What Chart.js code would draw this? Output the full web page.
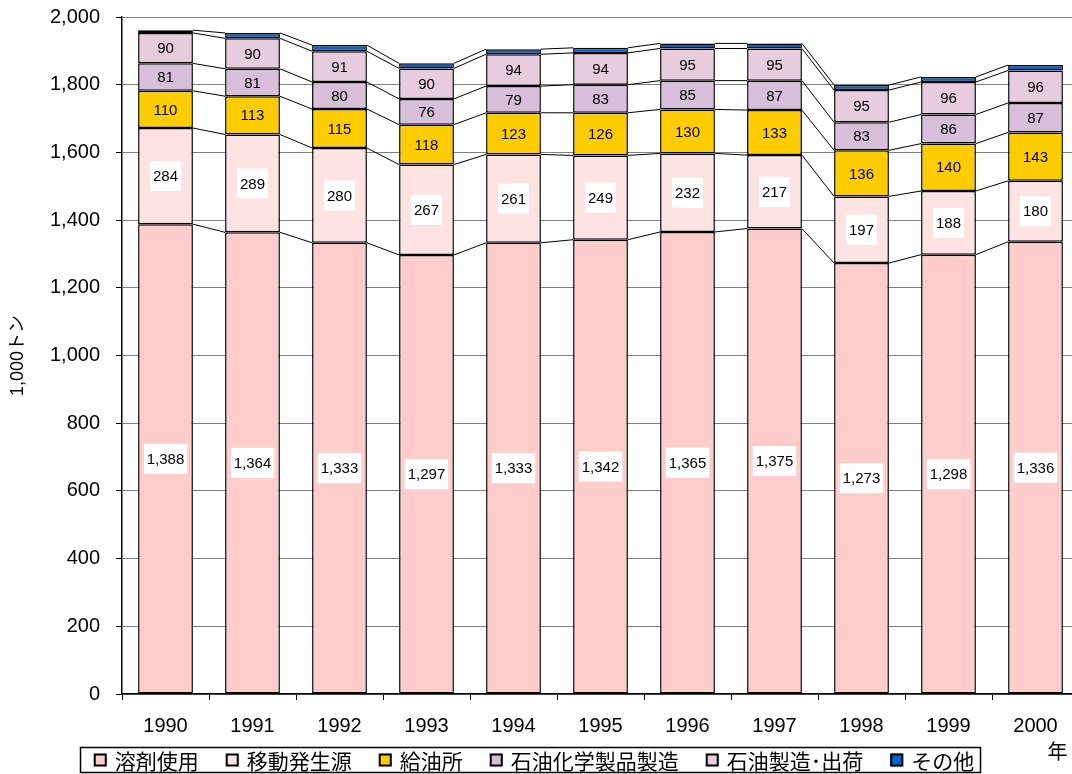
<!DOCTYPE html>
<html>
<head>
<meta charset="utf-8">
<script src="https://cdn.jsdelivr.net/npm/chart.js@4.4.1/dist/chart.umd.min.js"></script>
<style>
  html, body { margin: 0; padding: 0; background: #fff; overflow: hidden; }
  #wrap { width: 1072px; height: 774px; overflow: hidden; }
  #inner { width: 1080px; height: 774px; }
</style>
</head>
<body>
<div id="wrap"><div id="inner"><canvas id="vocChart"></canvas></div></div>
<script>
const years = ["1990", "1991", "1992", "1993", "1994", "1995", "1996", "1997", "1998", "1999", "2000"];
const seriesNames = ["溶剤使用", "移動発生源", "給油所", "石油化学製品製造", "石油製造･出荷", "その他"];
const solvent = [1388, 1364, 1333, 1297, 1333, 1342, 1365, 1375, 1273, 1298, 1336];
const mobile = [284, 289, 280, 267, 261, 249, 232, 217, 197, 188, 180];
const gasStation = [110, 113, 115, 118, 123, 126, 130, 133, 136, 140, 143];
const petrochem = [81, 81, 80, 76, 79, 83, 85, 87, 83, 86, 87];
const refining = [90, 90, 91, 90, 94, 94, 95, 95, 95, 96, 96];
const others = [8, 16, 18, 15, 15, 15, 15, 15, 15, 15, 16];
const yTicks = [0, 200, 400, 600, 800, 1000, 1200, 1400, 1600, 1800, 2000];

const colors = ["#FFCCCC", "#FFE3E3", "#FFCC00", "#D7BFD9", "#E6CCDC", "#0066CC"];
const allSeries = [solvent, mobile, gasStation, petrochem, refining, others];

// series lines between the tops of each segment (like Excel)
const seriesLines = {
  id: "seriesLines",
  beforeDatasetsDraw(chart) {
    const ctx = chart.ctx;
    ctx.save();
    ctx.strokeStyle = "#000";
    ctx.lineWidth = 1;
    chart.data.datasets.forEach((ds, i) => {
      const bars = chart.getDatasetMeta(i).data;
      for (let j = 0; j < bars.length - 1; j++) {
        const a = bars[j], b = bars[j + 1];
        ctx.beginPath();
        ctx.moveTo(a.x + a.width / 2, a.y);
        ctx.lineTo(b.x - b.width / 2, b.y);
        ctx.stroke();
      }
    });
    ctx.restore();
  }
};

// value labels, white box on the two pink series
const valueLabels = {
  id: "valueLabels",
  afterDatasetsDraw(chart) {
    const ctx = chart.ctx;
    ctx.save();
    ctx.textAlign = "center";
    ctx.textBaseline = "middle";
    ctx.font = "15px Arial, 'Liberation Sans'";
    chart.data.datasets.forEach((ds, i) => {
      if (i > 4) return;
      const bars = chart.getDatasetMeta(i).data;
      bars.forEach((bar, j) => {
        const txt = ds.data[j].toLocaleString("en-US");
        const cy = (bar.y + bar.base) / 2;
        if (i < 2) {
          const w = Math.max(ctx.measureText(txt).width + 6, 30);
          ctx.fillStyle = "#fff";
          ctx.fillRect(bar.x - w / 2, cy - 15, w, 30);
        }
        ctx.fillStyle = "#000";
        ctx.fillText(txt, bar.x, cy + 1);
      });
    });
    ctx.restore();
  }
};

// hand-drawn legend in a frame, plus the 年 mark
const legendBox = {
  id: "legendBox",
  afterDraw(chart) {
    const ctx = chart.ctx;
    ctx.save();
    ctx.font = "21px 'Noto Sans CJK JP'";
    ctx.textBaseline = "middle";
    const box = 13, gap = 8, spacing = 27;
    const widths = seriesNames.map(n => ctx.measureText(n).width);
    let total = 0;
    widths.forEach((w, i) => { total += box + gap + w + (i < widths.length - 1 ? spacing : 0); });
    const cy = 760;
    let x = 534 - total / 2;
    ctx.strokeStyle = "#000";
    ctx.lineWidth = 1.5;
    ctx.strokeRect(Math.round(x - 14) + 0.5, 747.5, Math.round(total + 20), 25);
    seriesNames.forEach((n, i) => {
      ctx.fillStyle = colors[i];
      ctx.fillRect(x, cy - box / 2, box, box);
      ctx.lineWidth = 2;
      ctx.strokeStyle = "#000";
      ctx.strokeRect(x + 1, cy - box / 2 + 1, box - 2, box - 2);
      ctx.fillStyle = "#000";
      ctx.textAlign = "left";
      ctx.fillText(n, x + box + gap, cy + 1);
      x += box + gap + widths[i] + spacing;
    });
    const xs = chart.scales.x;
    ctx.font = "20px 'Noto Sans CJK JP'";
    ctx.textAlign = "center";
    ctx.fillText("年", xs.getPixelForValue(years.length - 1) + 22, 751);
    ctx.restore();
  }
};

new Chart(document.getElementById("vocChart"), {
  type: "bar",
  data: {
    labels: years,
    datasets: allSeries.map((d, i) => ({
      label: seriesNames[i],
      data: d,
      backgroundColor: colors[i],
      borderColor: "#000",
      borderWidth: 1.5,
      borderSkipped: false,
      barPercentage: 0.63,
      categoryPercentage: 1
    }))
  },
  options: {
    responsive: true,
    maintainAspectRatio: false,
    animation: false,
    layout: { padding: { top: 17, right: 1, left: 0, bottom: 22 } },
    scales: {
      x: {
        stacked: true,
        grid: { display: true, drawOnChartArea: false, offset: true, tickLength: 6, color: "#000" },
        border: { color: "#000", width: 1.5 },
        ticks: { color: "#000", font: { family: "Arial", size: 20 }, padding: 14 }
      },
      y: {
        stacked: true,
        min: 0,
        max: 2000,
        afterBuildTicks(axis) { axis.ticks = yTicks.map(v => ({ value: v })); },
        afterFit(axis) {
          axis.width = 122;
          axis.paddingTop = 0;
          axis.paddingBottom = 0;
        },
        grid: { color: "#808080", lineWidth: 1, tickLength: 6, tickColor: "#000" },
        border: { color: "#000", width: 1.5 },
        ticks: {
          color: "#000",
          font: { family: "Arial", size: 20 },
          padding: 16,
          callback: v => v.toLocaleString("en-US")
        },
        title: {
          display: true,
          text: "1,000トン",
          color: "#000",
          font: { family: "Arial, 'Noto Sans CJK JP'", size: 18 },
          padding: { top: 7, bottom: 0 }
        }
      }
    },
    plugins: {
      legend: { display: false },
      tooltip: { enabled: false }
    }
  },
  plugins: [seriesLines, valueLabels, legendBox]
});
</script>
</body>
</html>
